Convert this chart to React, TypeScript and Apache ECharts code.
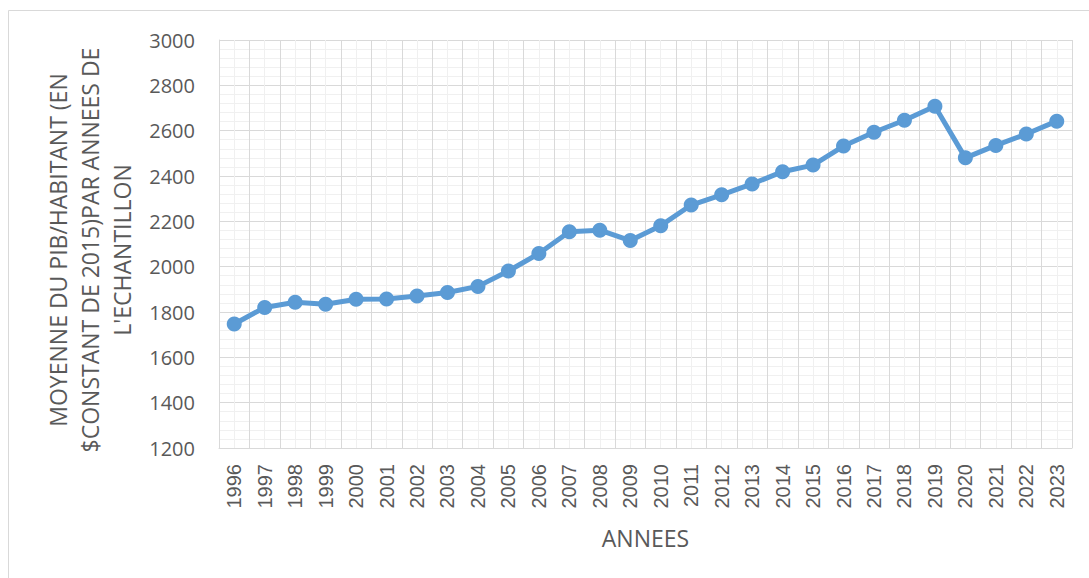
import React, { useEffect, useRef } from "react";
import * as echarts from "echarts";

const years = [
  "1996", "1997", "1998", "1999", "2000", "2001", "2002", "2003", "2004", "2005",
  "2006", "2007", "2008", "2009", "2010", "2011", "2012", "2013", "2014", "2015",
  "2016", "2017", "2018", "2019", "2020", "2021", "2022", "2023",
];

const pibMoyen = [
  1747, 1820, 1843, 1834, 1856, 1857, 1871, 1886, 1913, 1981,
  2058, 2154, 2161, 2115, 2181, 2272, 2317, 2365, 2419, 2448,
  2532, 2593, 2646, 2708, 2480, 2535, 2585, 2642,
];

const yTitle = "MOYENNE DU PIB/HABITANT (EN\n$CONSTANT DE 2015)PAR ANNEES DE\nL'ECHANTILLON";
const xTitle = "ANNEES";

export default function App() {
  const ref = useRef<HTMLDivElement>(null);
  useEffect(() => {
    if (!ref.current) return;
    const chart = echarts.init(ref.current, undefined, { renderer: "svg" });
    const textColor = "#595959";
    chart.setOption({
      animation: false,
      backgroundColor: "#ffffff",
      graphic: [
        {
          type: "rect",
          shape: { x: 8.5, y: 10.5, width: 1200, height: 700 },
          style: { fill: "none", stroke: "#d9d9d9", lineWidth: 1 },
          silent: true,
        },
      ],
      grid: { left: 219, right: 17, top: 40, bottom: 130, containLabel: false },
      xAxis: [
        {
          type: "category",
          data: years,
          boundaryGap: true,
          axisLine: { show: true, lineStyle: { color: "#d9d9d9", width: 1 } },
          axisTick: { show: false },
          splitLine: { show: false },
          axisLabel: {
            rotate: 90,
            margin: 16,
            color: textColor,
            fontSize: 20,
            fontFamily: "Liberation Sans",
            interval: 0,
          },
          name: xTitle,
          nameLocation: "middle",
          nameGap: 78,
          nameTextStyle: { color: textColor, fontSize: 23, fontFamily: "Open Sans" },
        },
        {
          type: "value",
          min: 0,
          max: 28,
          interval: 1,
          position: "bottom",
          axisLine: { show: false },
          axisTick: { show: false },
          axisLabel: { show: false },
          splitLine: { show: true, lineStyle: { color: "#d9d9d9", width: 1 } },
          minorTick: { show: false, splitNumber: 2 },
          minorSplitLine: { show: true, lineStyle: { color: "#f0f0f0", width: 1 } },
        },
      ],
      yAxis: {
        type: "value",
        min: 1200,
        max: 3000,
        interval: 200,
        axisLine: { show: true, lineStyle: { color: "#d9d9d9" } },
        axisTick: { show: false },
        axisLabel: {
          color: textColor,
          fontSize: 20,
          fontFamily: "Open Sans",
          margin: 24,
          formatter: (v: number) => String(v),
        },
        splitLine: { show: true, lineStyle: { color: "#d9d9d9", width: 1 } },
        minorTick: { show: false, splitNumber: 5 },
        minorSplitLine: { show: true, lineStyle: { color: "#f0f0f0", width: 1 } },
        name: yTitle,
        nameLocation: "middle",
        nameRotate: 90,
        nameGap: 77,
        nameTextStyle: {
          color: textColor,
          fontSize: 23,
          lineHeight: 32,
          fontFamily: "Open Sans",
          align: "center",
          padding: [0, 12, 0, 0],
        },
      },
      series: [
        {
          type: "line",
          xAxisIndex: 0,
          data: pibMoyen,
          symbol: "circle",
          symbolSize: 15,
          lineStyle: { color: "#5b9bd5", width: 5 },
          itemStyle: { color: "#5b9bd5" },
        },
      ],
    });
    return () => chart.dispose();
  }, []);
  return (
    <div
      ref={ref}
      style={{ position: "fixed", left: 0, top: 0, width: 1089, height: 578 }}
    />
  );
}
